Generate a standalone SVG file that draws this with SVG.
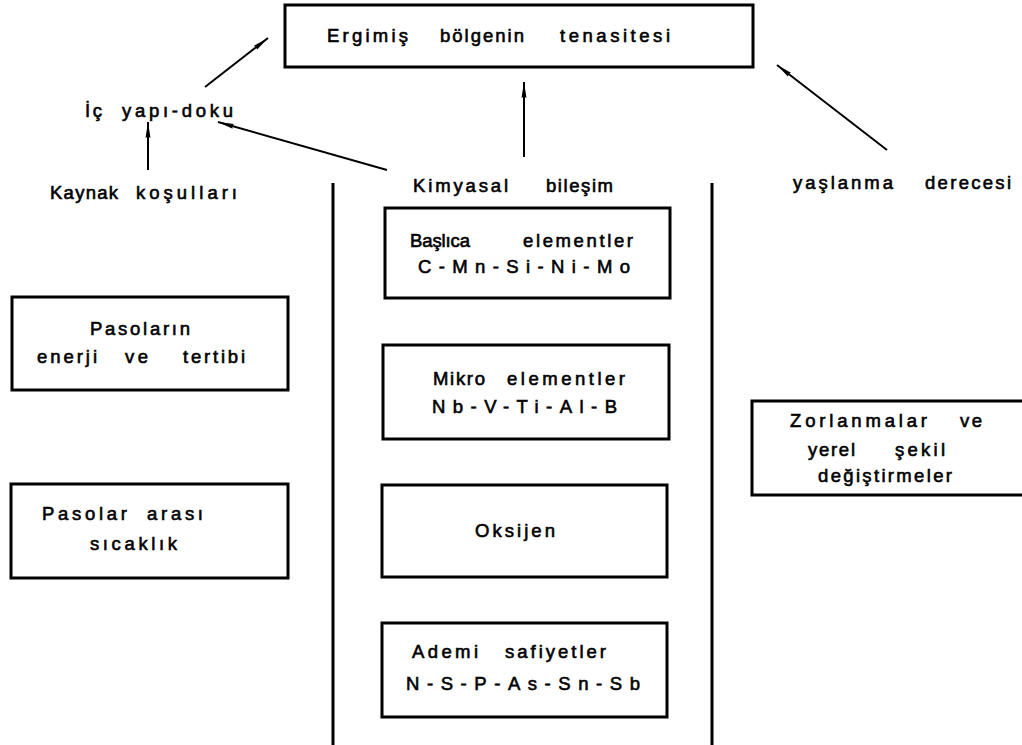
<svg xmlns="http://www.w3.org/2000/svg" width="1022" height="745" viewBox="0 0 1022 745">
<style>
.bg{fill:#fff}
.box{fill:none;stroke:#000;stroke-width:3}
.t{font-family:"Liberation Sans","DejaVu Sans",sans-serif;font-size:18.5px;fill:#000;stroke:#000;stroke-width:0.6}
.c{stroke:#000;stroke-width:2;fill:none}
.wall{stroke:#000;stroke-width:3}
</style>
<defs>
<marker id="ah" viewBox="0 0 16 6" refX="16" refY="3" markerWidth="16" markerHeight="6" orient="auto" markerUnits="userSpaceOnUse">
<path d="M0,0.5 L16,3 L0,5.5 Q2,3 0,0.5 Z" fill="#000"/>
</marker>
</defs>
<rect class="bg" x="0" y="0" width="1022" height="745"/>

<g id="n-tenasite">
<rect class="box" x="285" y="5" width="468" height="62"/>
<text class="t" y="42"><tspan x="327" textLength="81" lengthAdjust="spacing">Ergimiş</tspan> <tspan x="440" textLength="84" lengthAdjust="spacing">bölgenin</tspan> <tspan x="560" textLength="110" lengthAdjust="spacing">tenasitesi</tspan></text>
</g>

<g id="n-icyapi">
<text class="t" y="117"><tspan x="85" textLength="17" lengthAdjust="spacing">İç</tspan> <tspan x="122" textLength="111" lengthAdjust="spacing">yapı-doku</tspan></text>
</g>

<g id="n-kaynak">
<text class="t" y="199"><tspan x="50" textLength="68" lengthAdjust="spacing">Kaynak</tspan> <tspan x="136" textLength="101" lengthAdjust="spacing">koşulları</tspan></text>
</g>

<g id="n-kimyasal">
<text class="t" y="192"><tspan x="413" textLength="95" lengthAdjust="spacing">Kimyasal</tspan> <tspan x="546" textLength="67" lengthAdjust="spacing">bileşim</tspan></text>
</g>

<g id="n-yaslanma">
<text class="t" y="189"><tspan x="793" textLength="100" lengthAdjust="spacing">yaşlanma</tspan> <tspan x="925" textLength="86" lengthAdjust="spacing">derecesi</tspan></text>
</g>

<g id="n-baslica">
<rect class="box" x="385" y="208" width="285" height="90"/>
<text class="t" y="247"><tspan x="410" textLength="60" lengthAdjust="spacing">Başlıca</tspan> <tspan x="523" textLength="110" lengthAdjust="spacing">elementler</tspan></text>
<text class="t" x="418" y="273" textLength="212" lengthAdjust="spacing">C-Mn-Si-Ni-Mo</text>
</g>

<g id="n-mikro">
<rect class="box" x="383" y="345" width="286" height="94"/>
<text class="t" y="385"><tspan x="433" textLength="52" lengthAdjust="spacing">Mikro</tspan> <tspan x="507" textLength="118" lengthAdjust="spacing">elementler</tspan></text>
<text class="t" x="432" y="413" textLength="185" lengthAdjust="spacing">Nb-V-Ti-Al-B</text>
</g>

<g id="n-oksijen">
<rect class="box" x="382" y="485" width="285" height="92"/>
<text class="t" x="475" y="537" textLength="80" lengthAdjust="spacing">Oksijen</text>
</g>

<g id="n-ademi">
<rect class="box" x="382" y="623" width="285" height="94"/>
<text class="t" y="658"><tspan x="412" textLength="66" lengthAdjust="spacing">Ademi</tspan> <tspan x="505" textLength="101" lengthAdjust="spacing">safiyetler</tspan></text>
<text class="t" x="406" y="690" textLength="234" lengthAdjust="spacing">N-S-P-As-Sn-Sb</text>
</g>

<g id="n-pasolarin">
<rect class="box" x="12" y="297" width="276" height="93"/>
<text class="t" x="90" y="335" textLength="100" lengthAdjust="spacing">Pasoların</text>
<text class="t" y="363"><tspan x="37" textLength="60" lengthAdjust="spacing">enerji</tspan> <tspan x="125" textLength="23" lengthAdjust="spacing">ve</tspan> <tspan x="183" textLength="62" lengthAdjust="spacing">tertibi</tspan></text>
</g>

<g id="n-pasolar-arasi">
<rect class="box" x="11" y="484" width="277" height="94"/>
<text class="t" y="520"><tspan x="42" textLength="85" lengthAdjust="spacing">Pasolar</tspan> <tspan x="147" textLength="56" lengthAdjust="spacing">arası</tspan></text>
<text class="t" x="90" y="550" textLength="87" lengthAdjust="spacing">sıcaklık</text>
</g>

<g id="n-zorlanma">
<rect class="box" x="752" y="401" width="300" height="94"/>
<text class="t" y="427"><tspan x="790" textLength="137" lengthAdjust="spacing">Zorlanmalar</tspan> <tspan x="960" textLength="22" lengthAdjust="spacing">ve</tspan></text>
<text class="t" y="456"><tspan x="808" textLength="47" lengthAdjust="spacing">yerel</tspan> <tspan x="895" textLength="50" lengthAdjust="spacing">şekil</tspan></text>
<text class="t" x="818" y="482" textLength="134" lengthAdjust="spacing">değiştirmeler</text>
</g>

<g id="walls">
<line class="wall" x1="333" y1="183" x2="333" y2="745"/>
<line class="wall" x1="712" y1="183" x2="712" y2="745"/>
</g>

<g id="connectors">
<line class="c" x1="205" y1="87" x2="268" y2="38" marker-end="url(#ah)"/>
<line class="c" x1="148" y1="170" x2="148" y2="122" marker-end="url(#ah)"/>
<line class="c" x1="387" y1="170" x2="218" y2="122" marker-end="url(#ah)"/>
<line class="c" x1="524" y1="157" x2="524" y2="82" marker-end="url(#ah)"/>
<line class="c" x1="887" y1="150" x2="777" y2="65" marker-end="url(#ah)"/>
</g>
</svg>
